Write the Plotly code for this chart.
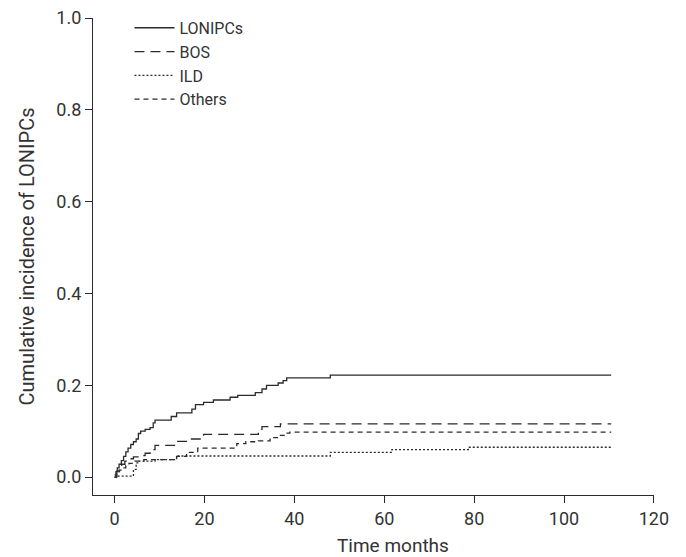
import plotly.graph_objects as go

# Step-function cumulative incidence data (months, cumulative incidence)
lonipcs_t = [0, 0.3, 0.6, 1.0, 1.5, 2.0, 2.5, 3.0, 3.6, 4.2, 4.8, 5.3, 5.8, 6.8, 7.9, 8.6, 9.0,
             12.6, 13.8, 17.2, 18.0, 19.8, 22.0, 25.7, 27.4, 31.3, 32.8, 33.8, 36.4, 37.5, 38.3, 48.0, 110.5]
lonipcs_v = [0, 0.012, 0.02, 0.028, 0.036, 0.045, 0.055, 0.063, 0.071, 0.077, 0.083, 0.095, 0.1, 0.104,
             0.108, 0.118, 0.124, 0.132, 0.14, 0.148, 0.158, 0.163, 0.168, 0.174, 0.178, 0.184, 0.192,
             0.2, 0.205, 0.21, 0.216, 0.222, 0.222]

bos_t = [0, 0.5, 1.1, 1.6, 2.3, 3.1, 4.2, 5.7, 6.8, 7.9, 8.6, 9.0, 13.8, 16.8, 19.8, 32.0, 32.8, 36.9, 110.5]
bos_v = [0.005, 0.013, 0.02, 0.028, 0.035, 0.04, 0.044, 0.047, 0.052, 0.057, 0.06, 0.069, 0.078, 0.083,
         0.093, 0.104, 0.11, 0.116, 0.116]

ild_t = [0, 0.8, 4.2, 4.8, 5.5, 9.0, 13.8, 48.0, 61.7, 78.7, 110.5]
ild_v = [0.0, 0.002, 0.017, 0.031, 0.035, 0.038, 0.046, 0.054, 0.06, 0.065, 0.065]

others_t = [0, 0.5, 1.0, 1.6, 2.5, 3.2, 4.5, 6.5, 13.8, 16.0, 18.5, 27.2, 29.2, 32.0, 34.6, 36.9, 38.0,
            39.0, 110.5]
others_v = [0.0, 0.008, 0.015, 0.02, 0.025, 0.03, 0.035, 0.038, 0.045, 0.054, 0.063, 0.073, 0.077, 0.079,
            0.086, 0.091, 0.096, 0.098, 0.098]

x_ticks = [0, 20, 40, 60, 80, 100, 120]
y_ticks = [0.0, 0.2, 0.4, 0.6, 0.8, 1.0]

series = [
    ("LONIPCs", lonipcs_t, lonipcs_v, "solid"),
    ("BOS", bos_t, bos_v, "10px,6px"),
    ("ILD", ild_t, ild_v, "2px,2px"),
    ("Others", others_t, others_v, "5px,4px"),
]

ink = "#2b2b2b"
fig = go.Figure()
for name, t, v, dash in series:
    fig.add_trace(go.Scatter(x=t, y=v, mode="lines", name=name, line_shape="hv",
                             line=dict(color=ink, width=1.3, dash=dash)))

# The page body has an 8px default margin, so the figure is sized to fit the window.
font = dict(family="Roboto, 'Open Sans', sans-serif", size=18, color="#333333")
fig.update_layout(
    width=678, height=549,
    margin=dict(l=85, r=32, t=10, b=62, autoexpand=False),
    paper_bgcolor="white", plot_bgcolor="white",
    font=font,
    showlegend=True,
    legend=dict(x=0.065, y=1.015, xanchor="left", yanchor="top", bgcolor="rgba(0,0,0,0)",
                font=dict(size=16, color="#333333"), itemwidth=40, tracegroupgap=0),
    xaxis=dict(range=[-4.8, 120.02], tickvals=x_ticks, ticktext=[str(v) for v in x_ticks],
               showline=True, linecolor=ink, linewidth=1.2, ticks="outside", ticklen=7,
               tickcolor=ink, tickwidth=1.2, showgrid=False, zeroline=False, automargin=False,
               ticklabeloverflow="allow"),
    yaxis=dict(range=[-0.039, 1.0003], tickvals=y_ticks, ticktext=[f"{v:.1f}" for v in y_ticks],
               showline=True, linecolor=ink, linewidth=1.2, ticks="outside", ticklen=7,
               tickcolor=ink, tickwidth=1.2, showgrid=False, zeroline=False, automargin=False,
               ticklabeloverflow="allow",
               title=dict(text="Cumulative incidence of LONIPCs", standoff=16, font=dict(size=20))),
    annotations=[dict(text="Time months", xref="paper", yref="paper", x=0.535, y=-0.105,
                      xanchor="center", yanchor="middle", showarrow=False,
                      font=dict(size=19, color="#333333"))],
)

fig.write_html("out.html")
